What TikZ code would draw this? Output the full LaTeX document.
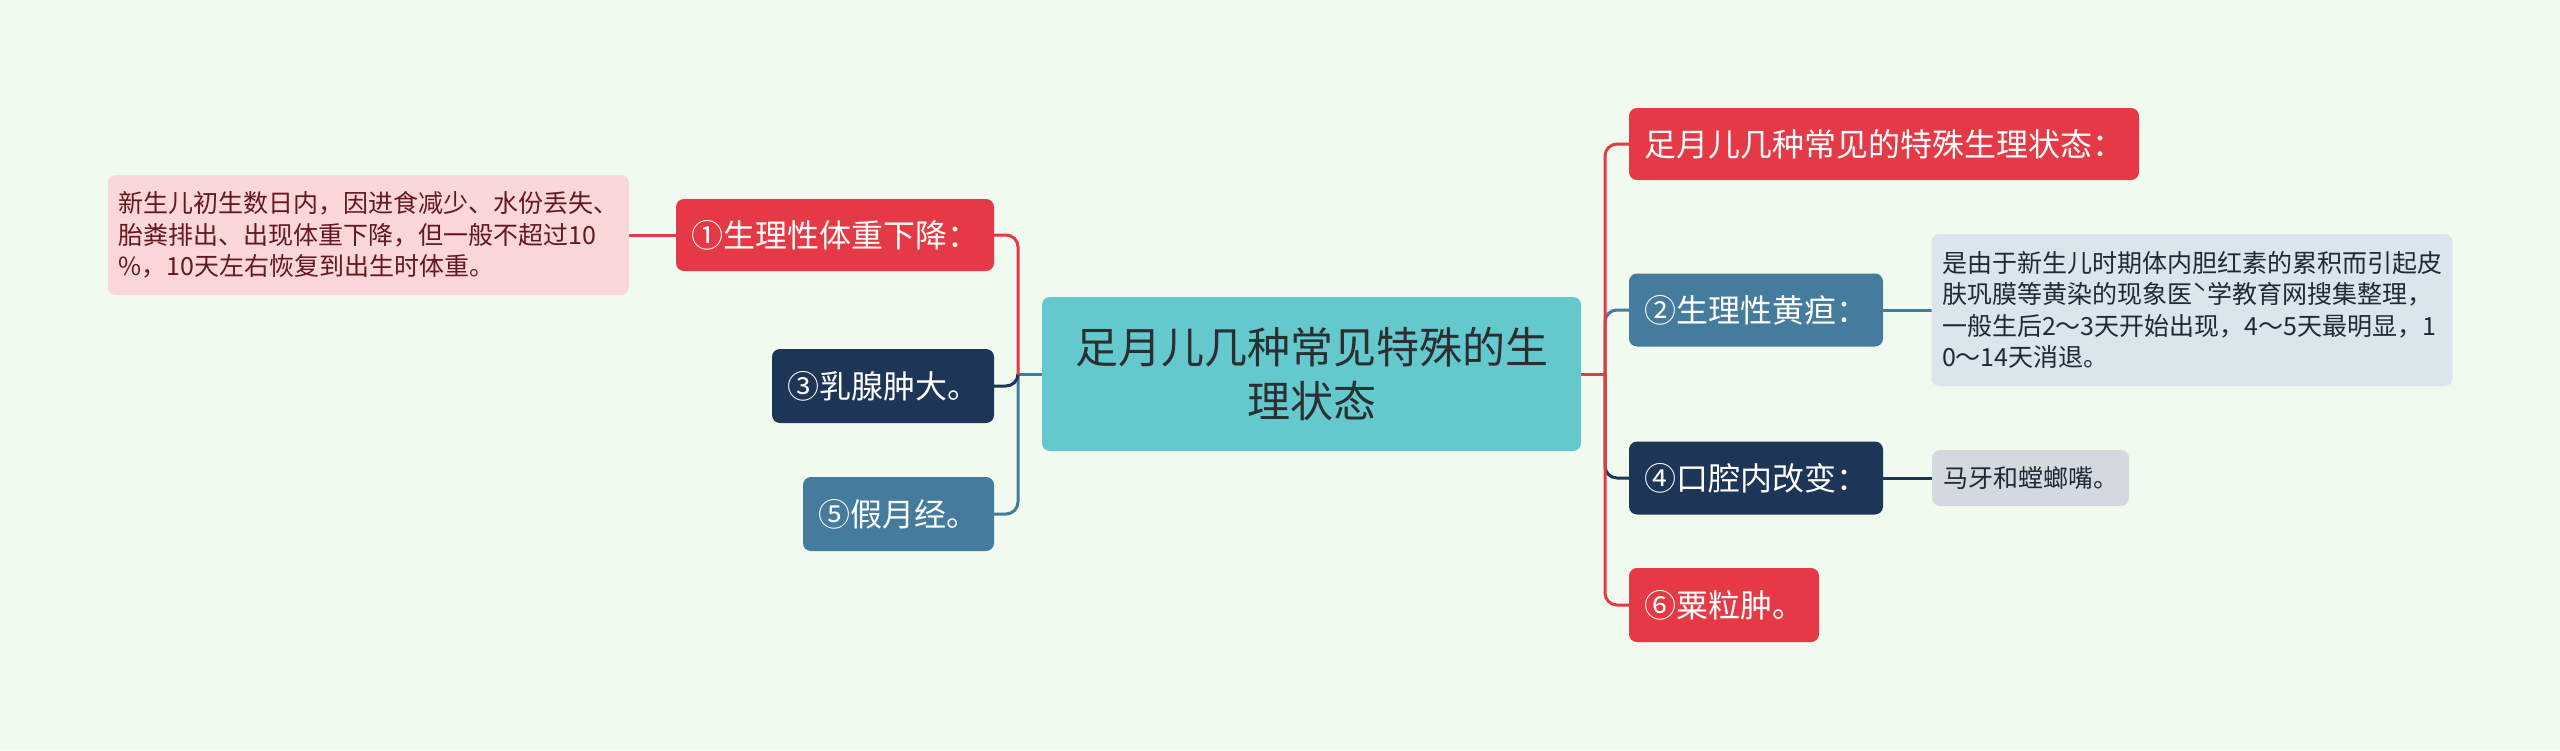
\documentclass[tikz,border=0pt]{standalone}
\usepackage{fontspec}
\setmainfont{Noto Sans CJK SC}
\usetikzlibrary{backgrounds}
\definecolor{bgc}{HTML}{F1FAEE}
\definecolor{cred}{HTML}{E63946}
\definecolor{cnavy}{HTML}{1D3557}
\definecolor{csteel}{HTML}{457B9D}
\definecolor{cteal}{HTML}{63C9CC}
\definecolor{cpink}{HTML}{FBD7DA}
\definecolor{cdesc}{HTML}{DAE5EC}
\definecolor{cgray}{HTML}{D4D8DF}
\definecolor{ctext}{HTML}{2B2F33}
\definecolor{cmaroon}{HTML}{651820}
\definecolor{cdark}{HTML}{1E2A36}
\begin{document}
\begin{tikzpicture}[x=1pt,y=-1pt,
  box/.style={rounded corners=8, inner sep=0pt, anchor=center},
  lvl/.style={box, align=center, text=white, font=\fontsize{32}{38}\selectfont, minimum height=73},
  desc/.style={box, align=left, inner xsep=10.5pt, text width=500pt, font=\fontsize{25}{31.5}\selectfont},
  conn/.style={line width=3pt, line cap=round}]
\useasboundingbox (0,0) rectangle (2560,750);
% center
\node[box, fill=cteal, text=ctext, align=center, minimum width=539, minimum height=154,
  font=\fontsize{43}{54}\selectfont] (c) at (1311.5,374) {足月儿几种常见特殊的生\\理状态};
% left
\node[lvl, fill=cred, minimum width=318, minimum height=72] (n1) at (835,235) {①生理性体重下降：};
\node[desc, fill=cpink, text=cmaroon, minimum height=120] (p1) at (368.5,235)
  {新生儿初生数日内，因进食减少、水份丢失、\\胎粪排出、出现体重下降，但一般不超过10\\\%，10天左右恢复到出生时体重。};
\node[lvl, fill=cnavy, minimum width=222, minimum height=74] (n3) at (883,386) {③乳腺肿大。};
\node[lvl, fill=csteel, minimum width=191, minimum height=74] (n5) at (898.5,514) {⑤假月经。};
% right
\node[lvl, fill=cred, minimum width=510, minimum height=72] (r1) at (1884,144) {足月儿几种常见的特殊生理状态：};
\node[lvl, fill=csteel, minimum width=254] (r2) at (1756,310) {②生理性黄疸：};
\node[desc, fill=cdesc, text=cdark, minimum height=152] (d2) at (2192,310)
  {是由于新生儿时期体内胆红素的累积而引起皮\\肤巩膜等黄染的现象医ˋ学教育网搜集整理，\\一般生后2～3天开始出现，4～5天最明显，1\\0～14天消退。};
\node[lvl, fill=cnavy, minimum width=254] (r4) at (1756,478) {④口腔内改变：};
\node[box, fill=cgray, text=cdark, align=center, minimum width=197, minimum height=56,
  font=\fontsize{25}{31}\selectfont] (d4) at (2030.5,478) {马牙和螳螂嘴。};
\node[lvl, fill=cred, minimum width=190, minimum height=74] (r6) at (1724,605) {⑥粟粒肿。};
\begin{scope}[on background layer]
  \fill[bgc] (0,0) rectangle (2560,750);
  \coordinate (lj) at (1018,374);
  \coordinate (rj) at (1605,374);
  % left connectors
  \draw[conn, csteel] (c.west) -- (lj);
  \draw[conn, csteel, rounded corners=12] (lj) |- (n5.east);
  \draw[conn, cnavy, rounded corners=12] (lj) |- (n3.east);
  \draw[conn, cred, rounded corners=12] (lj) |- (n1.east);
  \draw[conn, cred] (n1.west) -- (p1.east);
  % right connectors
  \draw[conn, csteel, rounded corners=12] (rj) |- (r2.west);
  \draw[conn, cnavy, rounded corners=12] (rj) |- (r4.west);
  \draw[conn, cred] (c.east) -- (rj);
  \draw[conn, cred, rounded corners=12] (rj) |- (r1.west);
  \draw[conn, cred, rounded corners=12] (rj) |- (r6.west);
  \draw[conn, csteel] (r2.east) -- (d2.west);
  \draw[conn, cnavy] (r4.east) -- (d4.west);
\end{scope}
\end{tikzpicture}
\end{document}
